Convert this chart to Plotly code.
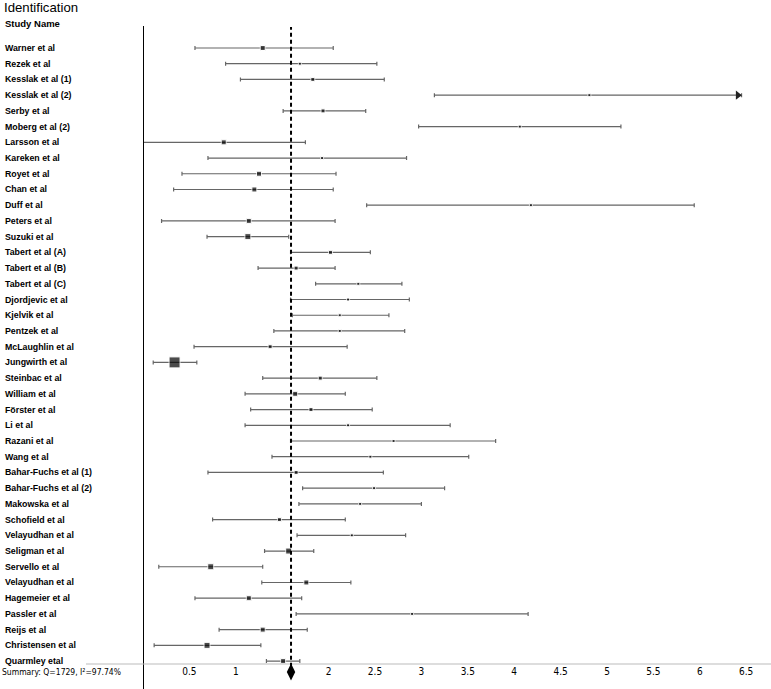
import plotly.graph_objects as go

studies = ["Warner et al", "Rezek et al", "Kesslak et al (1)", "Kesslak et al (2)", "Serby et al",
           "Moberg et al (2)", "Larsson et al", "Kareken et al", "Royet et al", "Chan et al",
           "Duff et al", "Peters et al", "Suzuki et al", "Tabert et al (A)", "Tabert et al (B)",
           "Tabert et al (C)", "Djordjevic et al", "Kjelvik et al", "Pentzek et al", "McLaughlin et al",
           "Jungwirth et al", "Steinbac et al", "William et al", "Förster et al", "Li et al",
           "Razani et al", "Wang et al", "Bahar-Fuchs et al (1)", "Bahar-Fuchs et al (2)", "Makowska et al",
           "Schofield et al", "Velayudhan et al", "Seligman et al", "Servello et al", "Velayudhan et al",
           "Hagemeier et al", "Passler et al", "Reijs et al", "Christensen et al", "Quarmley etal"]

effect = [1.29, 1.69, 1.83, 4.81, 1.94, 4.06, 0.87, 1.93, 1.25, 1.20,
          4.18, 1.14, 1.13, 2.02, 1.65, 2.32, 2.21, 2.12, 2.12, 1.37,
          0.34, 1.91, 1.64, 1.81, 2.21, 2.70, 2.45, 1.65, 2.49, 2.34,
          1.47, 2.25, 1.57, 0.73, 1.76, 1.14, 2.90, 1.29, 0.69, 1.51]

ci_lower = [0.56, 0.89, 1.05, 3.14, 1.51, 2.97, 0.00, 0.70, 0.42, 0.33,
            2.41, 0.20, 0.69, 1.59, 1.24, 1.86, 1.59, 1.61, 1.41, 0.55,
            0.11, 1.29, 1.10, 1.16, 1.10, 1.59, 1.39, 0.70, 1.72, 1.68,
            0.75, 1.66, 1.31, 0.17, 1.28, 0.56, 1.65, 0.82, 0.12, 1.33]

ci_upper = [2.05, 2.52, 2.60, 6.45, 2.40, 5.15, 1.75, 2.84, 2.08, 2.05,
            5.94, 2.07, 1.57, 2.45, 2.07, 2.79, 2.87, 2.65, 2.82, 2.20,
            0.58, 2.52, 2.18, 2.47, 3.31, 3.80, 3.51, 2.59, 3.25, 3.00,
            2.18, 2.83, 1.84, 1.29, 2.24, 1.71, 4.15, 1.77, 1.27, 1.69]

# studies whose interval runs past the visible axis (drawn with an arrow)
truncated = ["Kesslak et al (2)"]

weight_size = [5, 3, 4, 3, 4, 3, 5, 3, 5, 5,
               3, 5, 6, 4, 4, 3, 3, 3, 3, 4,
               11, 4, 5, 4, 3, 3, 3, 4, 3, 3,
               4, 3, 6, 6, 5, 5, 3, 5, 6, 5]

summary_effect = 1.595
summary_text = "Summary: Q=1729, I\u00b2=97.74%"
tick_values = [0.5, 1, 2, 2.5, 3, 3.5, 4, 4.5, 5, 5.5, 6, 6.5]
tick_labels = ["0.5", "1", "2", "2.5", "3", "3.5", "4", "4.5", "5", "5.5", "6", "6.5"]

W, H = 771, 689
ML, MR, MT, MB = 143, 0, 26, 0
row_px0, row_step = 48, 15.72
plot_h = H - MT - MB
plot_w = W - ML - MR
y_top = (MT - row_px0) / row_step
y_bot = (H - MB - row_px0) / row_step
x_max = plot_w / 92.8
sep_px = 664
sep_paper = (H - MB - sep_px) / plot_h

rows = list(range(len(studies)))
summary_row = (672 - row_px0) / row_step

NARROW = "DejaVu Sans Condensed, Liberation Sans Narrow, Arial Narrow, Liberation Sans"

fig = go.Figure()

fig.add_trace(go.Scatter(
    x=effect, y=rows, mode="markers",
    marker=dict(symbol="square", size=weight_size, color="black"),
    error_x=dict(type="data", symmetric=False,
                 array=[u - e for u, e in zip(ci_upper, effect)],
                 arrayminus=[e - l for e, l in zip(effect, ci_lower)],
                 color="#666666", thickness=1.2, width=2),
    cliponaxis=False, showlegend=False, hoverinfo="skip"))

# arrow heads for truncated intervals
tr_idx = [studies.index(s) for s in truncated]
fig.add_trace(go.Scatter(
    x=[ci_upper[i] - 0.04 for i in tr_idx], y=[rows[i] for i in tr_idx], mode="markers",
    marker=dict(symbol="triangle-right", size=8, color="#222222"),
    showlegend=False, hoverinfo="skip", cliponaxis=False))

# summary diamond
fig.add_trace(go.Scatter(
    x=[summary_effect], y=[summary_row], mode="markers",
    marker=dict(symbol="diamond-tall", size=12, color="black"),
    showlegend=False, hoverinfo="skip", cliponaxis=False))

annotations = []
for i, s in enumerate(studies):
    annotations.append(dict(x=(3 - ML) / plot_w, xref="paper", y=i, yref="y",
                            text="<b>%s</b>" % s, showarrow=False, xanchor="left", yanchor="middle",
                            font=dict(family="Liberation Sans, Arial", size=8.8, color="black")))
annotations.append(dict(x=(0 - ML) / plot_w, xref="paper", y=summary_row, yref="y",
                        text=summary_text, showarrow=False, xanchor="left", yanchor="middle",
                        font=dict(family=NARROW, size=8.5, color="black")))
annotations.append(dict(x=(3 - ML) / plot_w, xref="paper", y=1 + (MT - 23) / plot_h, yref="paper",
                        text="<b>Study Name</b>", showarrow=False, xanchor="left", yanchor="middle",
                        font=dict(family="Liberation Sans, Arial", size=9.5, color="black")))
annotations.append(dict(x=(2 - ML) / plot_w, xref="paper", y=1 + (MT - 7) / plot_h, yref="paper",
                        text="Identification", showarrow=False, xanchor="left", yanchor="middle",
                        font=dict(family="Liberation Sans, Arial", size=13.2, color="black")))

shapes = [
    # vertical axis line
    dict(type="line", xref="x", yref="paper", x0=0, x1=0, y0=0, y1=1,
         line=dict(color="black", width=2)),
    # separator under studies
    dict(type="line", xref="paper", yref="paper", x0=(86 - ML) / plot_w, x1=1, y0=sep_paper, y1=sep_paper,
         line=dict(color="#bbbbbb", width=1)),
    # dashed summary line
    dict(type="line", xref="x", yref="paper", x0=summary_effect, x1=summary_effect,
         y0=sep_paper - 0.004, y1=1 - 1 / plot_h,
         line=dict(color="black", width=2, dash="4px,3px")),
]

fig.update_layout(
    width=W, height=H, plot_bgcolor="white", paper_bgcolor="white",
    margin=dict(l=ML, r=MR, t=MT, b=MB),
    xaxis=dict(range=[0, x_max], tickvals=tick_values, ticktext=tick_labels,
               anchor="free", position=sep_paper,
               showgrid=False, zeroline=False, showline=False, ticks="",
               tickfont=dict(family=NARROW, size=10, color="black")),
    yaxis=dict(range=[y_bot, y_top], showgrid=False, zeroline=False, showline=False,
               showticklabels=False, ticks=""),
    annotations=annotations, shapes=shapes,
)

fig.write_html("out.html", config={"displayModeBar": False},
               post_script="document.body.style.margin='0px';")
